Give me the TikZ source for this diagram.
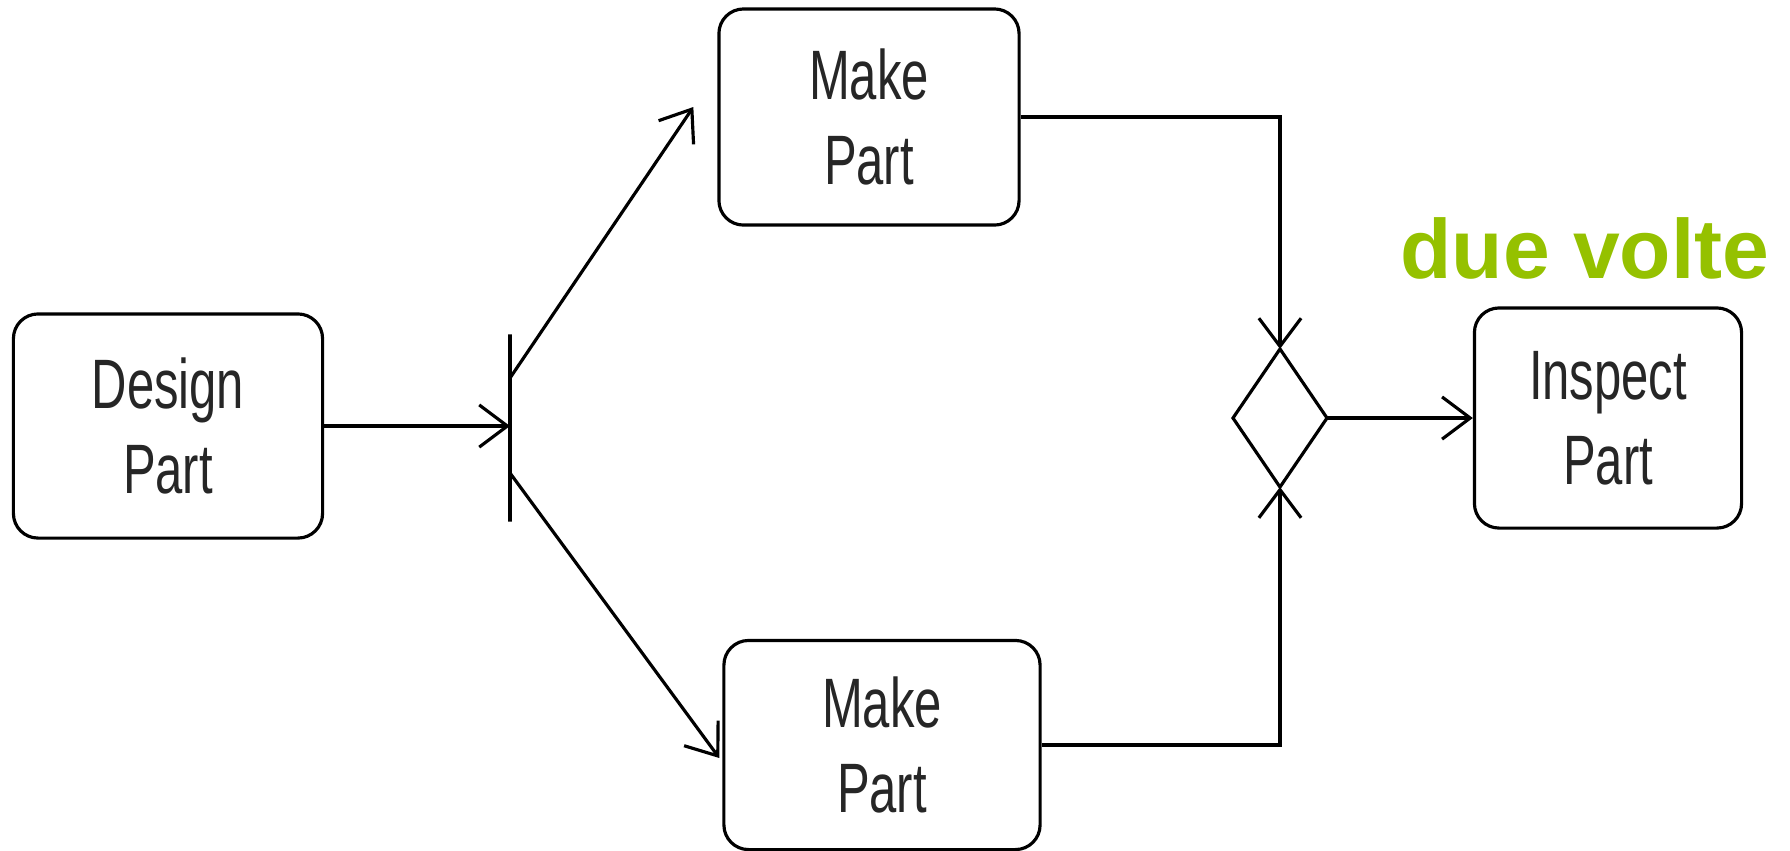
\documentclass[tikz,border=0pt]{standalone}
\usepackage{fontspec}
\setmainfont{Liberation Sans}
\newfontfamily\narrowfont[FakeStretch=0.7]{Liberation Sans}
\usetikzlibrary{arrows.meta,shapes.geometric,calc}
\definecolor{voltegreen}{RGB}{149,193,0}

\begin{document}
\begin{tikzpicture}[x=0.01cm,y=-0.01cm,->,>={Straight Barb[length=8pt,width=12pt]},
  line width=0.9pt,
  activity/.style={rectangle,rounded corners=7pt,draw,align=center,inner sep=0pt,
    text=black!85,font=\narrowfont\fontsize{19.9}{24.2}\selectfont},
  forkbar/.style={draw,minimum width=0pt,minimum height=1.87cm,inner sep=0pt,outer sep=0pt},
  merge/.style={diamond,draw,minimum width=0.94cm,minimum height=1.38cm,inner sep=0pt,outer sep=0pt}]

  \useasboundingbox (0,0) rectangle (1790,850);

  \node[activity,minimum width=3.09cm,minimum height=2.24cm] (design) at (168,426) {Design\\Part};
  \node[activity,minimum width=3.00cm,minimum height=2.16cm] (make1) at (869,117) {Make\\Part};
  \node[activity,minimum width=3.16cm,minimum height=2.09cm] (make2) at (882,745) {Make\\Part};
  \node[activity,minimum width=2.67cm,minimum height=2.20cm] (inspect) at (1608,418) {Inspect\\Part};
  \node[forkbar] (fork) at (510,428) {};
  \node[merge] (join) at (1280,418) {};
  \node[font=\bfseries\fontsize{23.9}{28}\selectfont,text=voltegreen,anchor=base] (times) at (1585,278) {due volte};

  \draw (design.east) -- (design.east -| fork.center);
  \draw ($(fork.center)+(0,-50)$) -- ($(make1.west)+(-24,-10)$);
  \draw ($(fork.center)+(0,45)$) -- ($(make2.west)+(-3,13)$);
  \draw (make1.east) -| (join.north);
  \draw (make2.east) -| (join.south);
  \draw (join.east) -- (inspect.west);
\end{tikzpicture}
\end{document}
